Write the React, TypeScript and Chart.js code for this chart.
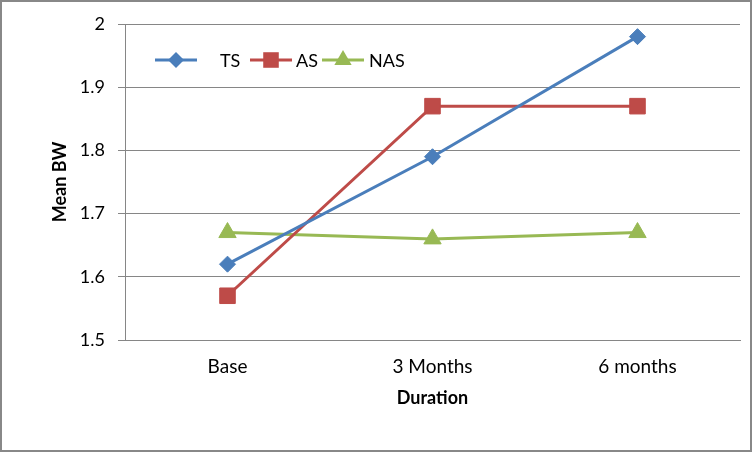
import React, { useEffect, useRef } from "react";
import { Chart, registerables } from "chart.js";

Chart.register(...registerables);

const categories = ["Base", "3 Months", "6 months"];
const seriesNames = ["TS", "AS", "NAS"];
const tsValues = [1.62, 1.79, 1.98];
const asValues = [1.57, 1.87, 1.87];
const nasValues = [1.67, 1.66, 1.67];
const yMin = 1.5;
const yMax = 2;
const yStep = 0.1;
const xTitle = "Duration";
const yTitle = "Mean BW";

const FONT = "Lato, 'Liberation Sans', sans-serif";
const GRID = "#868686";
const COLORS = ["#4A7EBB", "#BE4B48", "#98B954"];
const STYLES = ["rectRot", "rect", "triangle"];
const RADII = [8, 11, 10];

function drawMarker(ctx: CanvasRenderingContext2D, style: string, x: number, y: number, r: number) {
  ctx.beginPath();
  if (style === "rectRot") {
    ctx.moveTo(x - r, y);
    ctx.lineTo(x, y - r);
    ctx.lineTo(x + r, y);
    ctx.lineTo(x, y + r);
  } else if (style === "rect") {
    const s = Math.SQRT1_2 * r;
    ctx.rect(x - s, y - s, 2 * s, 2 * s);
  } else {
    const a = (2 * Math.PI) / 3;
    ctx.moveTo(x, y - r);
    ctx.lineTo(x + Math.sin(a) * r, y - Math.cos(a) * r);
    ctx.lineTo(x + Math.sin(2 * a) * r, y - Math.cos(2 * a) * r);
  }
  ctx.closePath();
  ctx.fill();
}

const frameLegendPlugin = {
  id: "frameLegend",
  beforeDraw(chart: any) {
    const ctx = chart.ctx;
    ctx.save();
    ctx.fillStyle = "#ffffff";
    ctx.fillRect(0, 0, chart.width, chart.height);
    ctx.restore();
  },
  afterDraw(chart: any) {
    const ctx: CanvasRenderingContext2D = chart.ctx;
    ctx.save();
    ctx.strokeStyle = "#888888";
    ctx.lineWidth = 2;
    ctx.strokeRect(1, 1, chart.width - 2, chart.height - 2);
    const items = [
      { lineX: 155, textX: 220 },
      { lineX: 250, textX: 296 },
      { lineX: 322, textX: 369 },
    ];
    const ly = 60;
    chart.data.datasets.forEach((ds: any, i: number) => {
      const it = items[i];
      ctx.strokeStyle = ds.borderColor;
      ctx.fillStyle = ds.borderColor;
      ctx.lineWidth = 3;
      ctx.beginPath();
      ctx.moveTo(it.lineX, ly);
      ctx.lineTo(it.lineX + 42, ly);
      ctx.stroke();
      drawMarker(ctx, STYLES[i], it.lineX + 21, ly, RADII[i]);
      ctx.fillStyle = "#000000";
      ctx.font = `18px ${FONT}`;
      ctx.textBaseline = "middle";
      ctx.textAlign = "left";
      ctx.fillText(ds.label, it.textX, ly + 1);
    });
    ctx.restore();
  },
};

export default function App() {
  const ref = useRef<HTMLCanvasElement | null>(null);
  useEffect(() => {
    document.body.style.margin = "0";
    if (!ref.current) return;
    const values = [tsValues, asValues, nasValues];
    const chart = new Chart(ref.current, {
      type: "line",
      data: {
        labels: categories,
        datasets: seriesNames.map((name, i) => ({
          label: name,
          data: values[i],
          borderColor: COLORS[i],
          backgroundColor: COLORS[i],
          borderWidth: 3,
          pointStyle: STYLES[i] as any,
          pointRadius: RADII[i],
          pointHoverRadius: RADII[i],
          pointBorderWidth: 1,
          pointBorderColor: COLORS[i],
          pointBackgroundColor: COLORS[i],
          tension: 0,
          fill: false,
        })),
      },
      options: {
        responsive: false,
        animation: false,
        layout: { padding: { top: 24, right: 11, left: 0, bottom: 0 } },
        plugins: {
          legend: { display: false },
          tooltip: { enabled: false },
        },
        scales: {
          x: {
            offset: true,
            grid: { display: false },
            border: { display: true, color: GRID, width: 1 },
            ticks: { color: "#000", font: { family: FONT, size: 19 }, padding: 7 },
            title: {
              display: true,
              text: xTitle,
              color: "#000",
              font: { family: FONT, size: 18, weight: "bold" },
              padding: { top: 0, bottom: 43 },
            },
            afterFit: (s: any) => {
              s.height = 112;
            },
          },
          y: {
            min: yMin,
            max: yMax,
            grid: { color: GRID, lineWidth: 1, tickLength: 7, drawTicks: true },
            border: { display: true, color: GRID, width: 1 },
            ticks: {
              stepSize: yStep,
              color: "#000",
              font: { family: FONT, size: 18 },
              padding: 13,
              callback: (v: any) => String(Math.round(Number(v) * 10) / 10),
            },
            title: {
              display: true,
              text: yTitle,
              color: "#000",
              font: { family: FONT, size: 18, weight: "bold" },
              padding: { top: 49, bottom: 0 },
            },
            afterFit: (s: any) => {
              s.width = 125;
            },
          },
        },
      },
      plugins: [frameLegendPlugin],
    });
    return () => chart.destroy();
  }, []);
  return (
    <div style={{ width: 752, height: 452 }}>
      <canvas ref={ref} width={752} height={452} style={{ display: "block" }} />
    </div>
  );
}
